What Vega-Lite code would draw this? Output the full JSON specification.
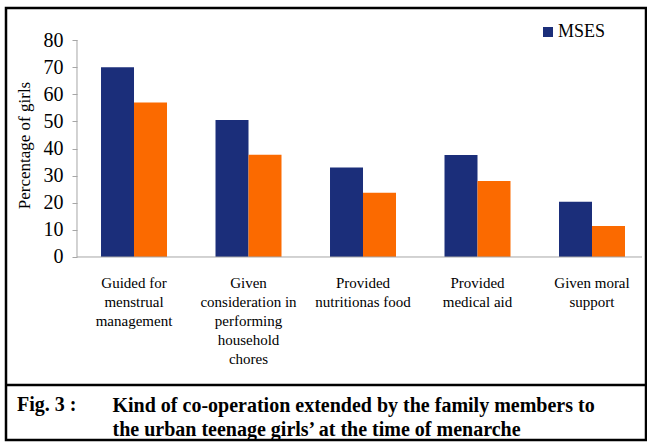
{
  "$schema": "https://vega.github.io/schema/vega-lite/v6.json",
  "autosize": {"type": "none"},
  "padding": {"left": 6, "top": 8, "right": 1, "bottom": 8},
  "background": "white",
  "width": 640,
  "height": 432,
  "config": {
    "font": "Liberation Serif",
    "view": {"stroke": "black", "strokeWidth": 2.5},
    "axis": {"labelFont": "Liberation Serif", "titleFont": "Liberation Serif"},
    "legend": {"labelFont": "Liberation Serif", "titleFont": "Liberation Serif"},
    "title": {"font": "Liberation Serif"},
    "style": {"guide-label": {"font": "Liberation Serif"}, "guide-title": {"font": "Liberation Serif"}}
  },
  "title": {
    "text": "Fig. 3 :",
    "orient": "bottom",
    "anchor": "start",
    "frame": "group",
    "offset": -45,
    "baseline": "top",
    "fontSize": 20,
    "fontWeight": "bold",
    "color": "black",
    "dx": 11
  },
  "data": {
    "values": [
      {"cat": "Guided for|menstrual|management", "grp": "MSES", "value": 70},
      {"cat": "Guided for|menstrual|management", "grp": "LSES", "value": 57},
      {"cat": "Given|consideration in|performing|household|chores", "grp": "MSES", "value": 50.5},
      {"cat": "Given|consideration in|performing|household|chores", "grp": "LSES", "value": 37.7},
      {"cat": "Provided|nutritionas food", "grp": "MSES", "value": 33},
      {"cat": "Provided|nutritionas food", "grp": "LSES", "value": 23.7},
      {"cat": "Provided|medical aid", "grp": "MSES", "value": 37.6},
      {"cat": "Provided|medical aid", "grp": "LSES", "value": 28},
      {"cat": "Given moral|support", "grp": "MSES", "value": 20.4},
      {"cat": "Given moral|support", "grp": "LSES", "value": 11.4}
    ]
  },
  "layer": [
    {
      "mark": {"type": "bar"},
      "encoding": {
        "x": {
          "field": "cat",
          "type": "nominal",
          "sort": null,
          "scale": {"paddingInner": 0.4236, "paddingOuter": 0.5066, "align": 0.819},
          "axis": {
            "title": ["Kind of co-operation extended by the family members to", "the urban teenage girls\u2019 at the time of menarche"],
            "titleX": 106,
            "titleY": 138,
            "titleAlign": "left",
            "titleAnchor": null,
            "titleBaseline": "top",
            "titleFont": "Liberation Serif",
            "titleFontSize": 20,
            "titleFontWeight": "bold",
            "titleColor": "black",
            "titleLineHeight": 24,
            "titleLimit": 0,
            "offset": -183,
            "domain": false,
            "ticks": false,
            "labelAngle": 0,
            "labelFont": "Liberation Serif",
            "labelFontSize": 15,
            "labelColor": "black",
            "labelPadding": 18,
            "labelLineHeight": 19,
            "labelLimit": 0,
            "labelOverlap": false,
            "labelExpr": "split(datum.label, '|')"
          }
        },
        "xOffset": {
          "field": "grp",
          "type": "nominal",
          "sort": ["MSES", "LSES"],
          "scale": {"paddingInner": 0, "paddingOuter": 0}
        },
        "y": {
          "field": "value",
          "type": "quantitative",
          "scale": {"domain": [-67.47, 91.8], "nice": false, "zero": false},
          "axis": {
            "values": [0, 10, 20, 30, 40, 50, 60, 70, 80],
            "offset": -71,
            "domain": false,
            "grid": false,
            "tickColor": "#a6a6a6",
            "tickSize": 5,
            "labelFont": "Liberation Serif",
            "labelFontSize": 20,
            "labelColor": "black",
            "labelPadding": 9,
            "title": "Percentage of girls",
            "titleFont": "Liberation Serif",
            "titleFontSize": 17,
            "titleFontWeight": "normal",
            "titleColor": "black",
            "titleY": 137,
            "titlePadding": 10
          }
        },
        "y2": {"datum": 0},
        "color": {
          "field": "grp",
          "type": "nominal",
          "scale": {"domain": ["MSES", "LSES"], "range": ["#1b2e7a", "#fb6a00"]},
          "legend": {
            "values": ["MSES"],
            "orient": "none",
            "legendX": 533,
            "legendY": 15,
            "title": null,
            "symbolType": "square",
            "symbolSize": 100,
            "labelOffset": 1,
            "labelFont": "Liberation Serif",
            "labelFontSize": 18,
            "labelColor": "black"
          }
        }
      }
    },
    {
      "data": {"values": [{}]},
      "mark": {"type": "rule", "color": "#a6a6a6", "strokeWidth": 1},
      "encoding": {
        "x": {"datum": "Guided for|menstrual|management", "bandPosition": -0.364},
        "y": {"datum": 0},
        "y2": {"datum": 80}
      }
    },
    {
      "data": {"values": [{}]},
      "mark": {"type": "rule", "color": "#a6a6a6", "strokeWidth": 1},
      "encoding": {
        "x": {"datum": "Guided for|menstrual|management", "bandPosition": -0.364},
        "x2": {"datum": "Given moral|support", "bandPosition": 1.258},
        "y": {"datum": 0}
      }
    },
    {
      "data": {"values": [{}]},
      "mark": {"type": "rule", "color": "black", "strokeWidth": 2.5},
      "encoding": {
        "y": {"datum": -47.19}
      }
    }
  ]
}
